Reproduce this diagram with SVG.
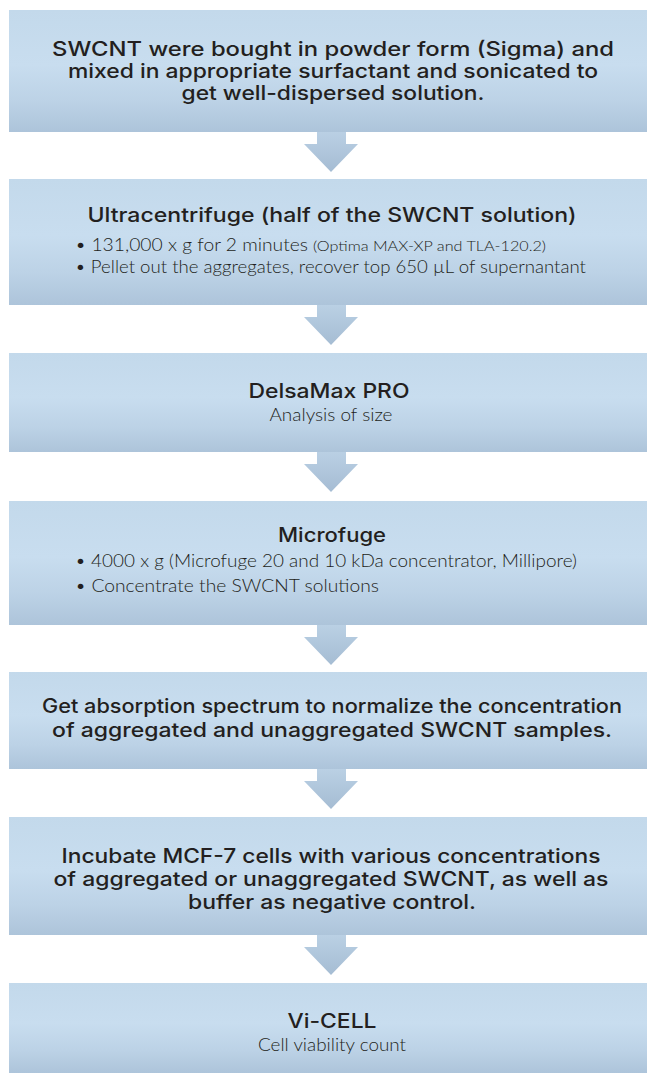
<svg xmlns="http://www.w3.org/2000/svg" width="647" height="1076" viewBox="0 0 647 1076">
<defs>
<linearGradient id="boxg" x1="0" y1="0" x2="0" y2="1">
<stop offset="0" stop-color="#c3d9eb"/>
<stop offset="0.45" stop-color="#c8ddef"/>
<stop offset="0.75" stop-color="#bcd2e6"/>
<stop offset="1" stop-color="#adc4da"/>
</linearGradient>
<linearGradient id="arrg" x1="0" y1="0" x2="0" y2="1">
<stop offset="0" stop-color="#bad0e4"/>
<stop offset="1" stop-color="#a5bcd3"/>
</linearGradient>
<path id="arr" d="M317,0 H346 V12 H358 L331,40 L304,12 H317 Z"/>
</defs>
<style>
.box{fill:url(#boxg);}
.arrow{fill:url(#arrg);}
.t{font-family:Inter,"Noto Sans","Liberation Sans",sans-serif;font-weight:500;font-size:20px;fill:#231f20;text-anchor:middle;}
.b{font-family:Lato,"Open Sans","Liberation Sans",sans-serif;font-weight:300;font-size:18px;fill:#231f20;}
.s{font-size:14px;}
.c{text-anchor:middle;}
</style>
<rect width="647" height="1076" fill="#ffffff"/>
<g id="connectors">
<use href="#arr" class="arrow" y="132"/>
<use href="#arr" class="arrow" y="305"/>
<use href="#arr" class="arrow" y="452"/>
<use href="#arr" class="arrow" y="625"/>
<use href="#arr" class="arrow" y="769"/>
<use href="#arr" class="arrow" y="935"/>
</g>
<g id="step1">
<rect class="box" x="9" y="10" width="650" height="122"/>
<text class="t" x="333" y="56" textLength="562" lengthAdjust="spacingAndGlyphs">SWCNT were bought in powder form (Sigma) and</text>
<text class="t" x="333" y="78" textLength="530" lengthAdjust="spacingAndGlyphs">mixed in appropriate surfactant and sonicated to</text>
<text class="t" x="333" y="100" textLength="303" lengthAdjust="spacingAndGlyphs">get well-dispersed solution.</text>
</g>
<g id="step2">
<rect class="box" x="9" y="179" width="650" height="126"/>
<text class="t" x="332" y="222" textLength="489" lengthAdjust="spacingAndGlyphs">Ultracentrifuge (half of the SWCNT solution)</text>
<text class="b" x="75" y="251" textLength="233" lengthAdjust="spacingAndGlyphs">• 131,000 x g for 2 minutes</text>
<text class="b s" x="313" y="251" textLength="233" lengthAdjust="spacingAndGlyphs">(Optima MAX-XP and TLA-120.2)</text>
<text class="b" x="75" y="273" textLength="511" lengthAdjust="spacingAndGlyphs">• Pellet out the aggregates, recover top 650 µL of supernantant</text>
</g>
<g id="step3">
<rect class="box" x="9" y="353" width="650" height="99"/>
<text class="t" x="329" y="398" textLength="161" lengthAdjust="spacingAndGlyphs">DelsaMax PRO</text>
<text class="b c" x="331" y="421" textLength="123" lengthAdjust="spacingAndGlyphs">Analysis of size</text>
</g>
<g id="step4">
<rect class="box" x="9" y="501" width="650" height="124"/>
<text class="t" x="332" y="542" textLength="108" lengthAdjust="spacingAndGlyphs">Microfuge</text>
<text class="b" x="75" y="567" textLength="502" lengthAdjust="spacingAndGlyphs">• 4000 x g (Microfuge 20 and 10 kDa concentrator, Millipore)</text>
<text class="b" x="75" y="592" textLength="304" lengthAdjust="spacingAndGlyphs">• Concentrate the SWCNT solutions</text>
</g>
<g id="step5">
<rect class="box" x="9" y="672" width="650" height="97"/>
<text class="t" x="332" y="713" textLength="580" lengthAdjust="spacingAndGlyphs">Get absorption spectrum to normalize the concentration</text>
<text class="t" x="332" y="737" textLength="560" lengthAdjust="spacingAndGlyphs">of aggregated and unaggregated SWCNT samples.</text>
</g>
<g id="step6">
<rect class="box" x="9" y="817" width="650" height="118"/>
<text class="t" x="331" y="863" textLength="539" lengthAdjust="spacingAndGlyphs">Incubate MCF-7 cells with various concentrations</text>
<text class="t" x="331" y="886" textLength="555" lengthAdjust="spacingAndGlyphs">of aggregated or unaggregated SWCNT, as well as</text>
<text class="t" x="332" y="909" textLength="288" lengthAdjust="spacingAndGlyphs">buffer as negative control.</text>
</g>
<g id="step7">
<rect class="box" x="9" y="983" width="650" height="90"/>
<text class="t" x="332" y="1028" textLength="89" lengthAdjust="spacingAndGlyphs">Vi-CELL</text>
<text class="b c" x="332" y="1051" textLength="148" lengthAdjust="spacingAndGlyphs">Cell viability count</text>
</g>
</svg>
